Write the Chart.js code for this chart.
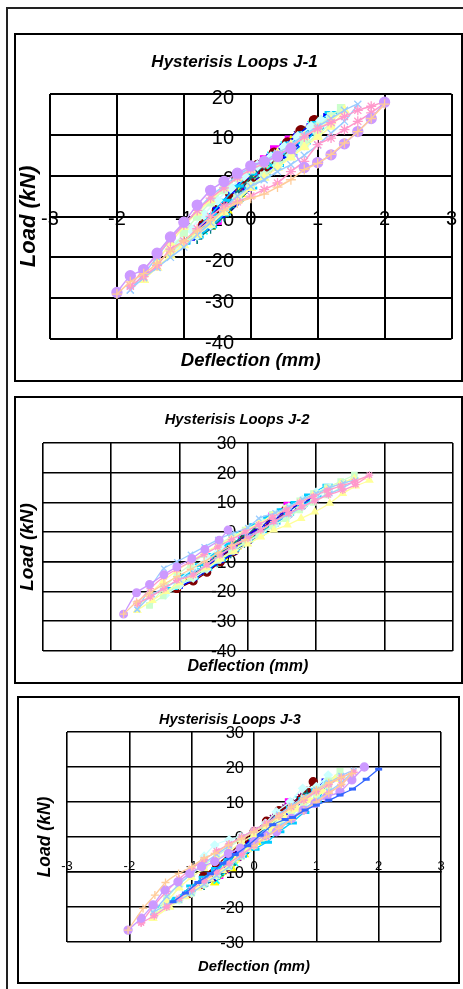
<!DOCTYPE html>
<html><head><meta charset="utf-8">
<script src="https://cdn.jsdelivr.net/npm/chart.js@4.4.1/dist/chart.umd.min.js"></script>
<style>
html,body{margin:0;padding:0;background:#fff;width:463px;height:989px;overflow:hidden;position:relative}
#frame{position:absolute;left:6px;top:7px;width:480px;height:1000px;border:2px solid #222;box-sizing:border-box}
.box{position:absolute;border:2px solid #000;box-sizing:border-box;background:#fff}
.box canvas{position:absolute;left:0;top:0}
</style></head><body>
<div id="frame"></div>
<div class="box" style="left:14px;top:33px;width:449px;height:349px"><canvas id="c1" width="445" height="345"></canvas></div>
<div class="box" style="left:14px;top:396px;width:449px;height:288px"><canvas id="c2" width="445" height="284"></canvas></div>
<div class="box" style="left:17px;top:696px;width:443px;height:288px"><canvas id="c3" width="439" height="284"></canvas></div>
<script>
// ---------- tick / axis labels ----------
const titles = ['Hysterisis Loops J-1', 'Hysterisis Loops J-2', 'Hysterisis Loops J-3'];
const xAxisTitle = 'Deflection (mm)';
const yAxisTitle = 'Load (kN)';
const xRange = [-3, 3];
const yRange1 = [-40, 20];
const yRange2 = [-40, 30];
const yRange3 = [-30, 30];

// ---------- series colours / markers (Excel default order) ----------
const seriesColors = ['#000080','#FF00FF','#FFFF00','#00FFFF','#800080','#800000','#008080','#0000FF','#00CCFF','#CCFFFF','#CCFFCC','#FFFF99','#99CCFF','#FF99CC','#CC99FF','#FFCC99','#3366FF'];
const seriesMarkers = ['rectRot','rect','triangle','crossRot','star','circle','cross','line','line','rectRot','rect','triangle','crossRot','star','circle','cross','line'];

// ---------- J-1 : [deflection mm, load kN] ----------
const j1_s01 = [[-0.4,-9],[-0.2,-5],[0,-1.5],[0.2,2],[0.4,5],[0.3,3],[0.1,0],[-0.1,-3.5],[-0.3,-7.5],[-0.4,-9]];
const j1_s02 = [[-0.5,-11],[-0.3,-6],[-0.1,-1],[0.05,2.3],[0.2,4],[0.35,6.4],[0.57,8.8],[0.4,5],[0.2,2],[0,-1.5],[-0.2,-5.5],[-0.4,-9],[-0.5,-11]];
const j1_s03 = [[-0.6,-12.5],[-0.4,-8],[-0.2,-3.5],[0,0.5],[0.2,3],[0.4,5.5],[0.6,8.5],[0.45,5],[0.25,2],[0.05,-1],[-0.15,-4.5],[-0.35,-8.5],[-0.6,-12.5]];
const j1_s04 = [[-0.7,-13.5],[-0.5,-9],[-0.3,-4.5],[-0.1,-0.5],[0.1,2.5],[0.3,5],[0.5,7.5],[0.7,10],[0.9,12.5],[0.7,8.5],[0.5,5.5],[0.3,2.5],[0.1,-0.5],[-0.1,-3.5],[-0.3,-7],[-0.5,-10.5],[-0.7,-13.5]];
const j1_s05 = [[-0.65,-12],[-0.45,-8],[-0.25,-4],[-0.05,0],[0.15,3],[0.35,5.5],[0.55,8],[0.7,10],[0.55,7],[0.35,4],[0.15,1],[-0.05,-2],[-0.25,-5.5],[-0.45,-9],[-0.65,-12]];
const j1_s06 = [[-0.7,-12],[-0.5,-8.5],[-0.3,-4.5],[-0.1,-0.5],[0.1,2.5],[0.35,5.5],[0.55,8],[0.75,11],[0.95,13.5],[0.8,10],[0.6,6.5],[0.4,3.5],[0.2,0.5],[0,-2],[-0.2,-5.5],[-0.4,-9],[-0.6,-11.5],[-0.7,-12]];
const j1_s07 = [[-0.8,-15.5],[-0.6,-12],[-0.4,-8],[-0.2,-4],[0,-0.5],[0.2,2.5],[0.4,5],[0.6,7.5],[0.8,10.5],[1,13],[0.8,9],[0.6,6],[0.4,3],[0.2,0],[0,-3],[-0.2,-6.5],[-0.4,-10],[-0.6,-13],[-0.8,-15.5]];
const j1_s08 = [[-0.9,-15.5],[-0.7,-12],[-0.5,-8],[-0.3,-4],[-0.1,-0.5],[0.1,2.5],[0.3,5],[0.5,7.5],[0.7,10],[0.9,12.5],[1.15,15],[0.95,11],[0.75,7.5],[0.55,4.5],[0.35,1.5],[0.15,-1],[-0.05,-3.5],[-0.25,-7],[-0.45,-10],[-0.65,-13],[-0.9,-15.5]];
const j1_s09 = [[-1,-16.5],[-0.8,-13],[-0.6,-9.5],[-0.4,-6],[-0.2,-2.5],[0,0.5],[0.2,3],[0.4,5.5],[0.6,8],[0.8,10.5],[1,13],[1.2,15.5],[1,11.5],[0.8,8],[0.6,5],[0.4,2.5],[0.2,0],[0,-3],[-0.2,-6],[-0.4,-9.5],[-0.6,-12.5],[-0.8,-15],[-1,-16.5]];
const j1_s10 = [[-1.1,-17],[-0.9,-13],[-0.7,-9.5],[-0.5,-6],[-0.3,-3],[-0.1,0],[0.1,2.5],[0.3,4.5],[0.5,7],[0.7,9.5],[0.9,12],[1.05,13.5],[1.2,14.5],[1,10.5],[0.8,7.5],[0.6,5],[0.4,2.5],[0.2,0],[0,-2.5],[-0.2,-5.5],[-0.4,-8.5],[-0.6,-12],[-0.8,-14.5],[-1.1,-17]];
const j1_s11 = [[-1.2,-18.5],[-1,-14],[-0.8,-10],[-0.6,-6.5],[-0.4,-3.5],[-0.2,-0.5],[0,1.5],[0.2,3],[0.4,5],[0.6,7],[0.8,9.5],[1,12],[1.2,14.5],[1.35,16.5],[1.2,13],[1,10],[0.8,7.5],[0.6,5],[0.4,2.5],[0.2,0],[0,-2.5],[-0.2,-5.5],[-0.4,-8.5],[-0.6,-11.5],[-0.8,-14],[-1,-16.5],[-1.2,-18.5]];
const j1_s12 = [[-1.6,-25.5],[-1.4,-21],[-1.2,-16.5],[-1,-12.5],[-0.8,-9],[-0.6,-6],[-0.4,-3],[-0.2,-0.5],[0,1.5],[0.2,3.5],[0.4,5.5],[0.6,7.5],[0.8,9.5],[1,11.5],[1.2,13.5],[1.4,16],[1.2,12],[1,9.5],[0.8,7],[0.6,4.5],[0.4,2],[0.2,-0.5],[0,-3],[-0.2,-6],[-0.4,-9],[-0.6,-12],[-0.8,-14.5],[-1,-17],[-1.2,-19.5],[-1.4,-22.5],[-1.6,-25.5]];
const j1_s13 = [[-1.8,-28],[-1.6,-24],[-1.4,-20],[-1.2,-15.5],[-1,-12],[-0.8,-8.5],[-0.6,-5],[-0.4,-2.5],[-0.2,0],[0,2],[0.2,3.5],[0.4,5.5],[0.6,7.5],[0.8,10],[1,12],[1.2,14],[1.4,16],[1.6,17.5],[1.4,13.3],[1.2,10.4],[1,7.5],[0.8,5],[0.6,2.7],[0.4,1],[0.2,-1],[0,-2.6],[-0.2,-5],[-0.4,-8],[-0.6,-11.5],[-0.8,-14.5],[-1,-17.5],[-1.2,-20],[-1.4,-22.5],[-1.6,-25],[-1.8,-28]];
const j1_s14 = [[-1.8,-27],[-1.6,-23],[-1.4,-19.5],[-1.2,-15.5],[-1,-12],[-0.8,-8.5],[-0.6,-5.5],[-0.4,-3],[-0.2,-0.5],[0,1.5],[0.2,3],[0.4,5],[0.6,7],[0.8,9.5],[1,11.5],[1.2,13],[1.4,14.5],[1.6,16],[1.8,17],[2,18],[1.8,15.4],[1.6,13.3],[1.4,11.3],[1.2,9.2],[1,7.6],[0.8,3.5],[0.6,1],[0.4,-1.8],[0.2,-3.4],[0,-5],[-0.2,-6.4],[-0.4,-7.5],[-0.6,-10],[-0.8,-13],[-1,-16],[-1.2,-18],[-1.4,-22],[-1.6,-24.7],[-1.8,-27]];
const j1_s15 = [[-2,-28.6],[-1.8,-24.5],[-1.6,-23],[-1.4,-19],[-1.2,-15],[-1,-11.4],[-0.8,-7.2],[-0.6,-3.6],[-0.4,-1.4],[-0.2,0.6],[0,2.4],[0.2,3.5],[0.4,4.7],[0.6,6.6],[0.8,2],[1,3.2],[1.2,5.1],[1.4,7.8],[1.6,10.8],[1.8,14],[2,18]];
const j1_s16 = [[-2,-29],[-1.8,-26],[-1.6,-24],[-1.4,-21.5],[-1.2,-18.5],[-1,-16],[-0.8,-13.5],[-0.6,-11],[-0.4,-8.5],[-0.2,-6.7],[0,-5.5],[0.2,-4.5],[0.4,-2.8],[0.6,-1],[0.8,1.5],[1,3],[1.2,5.2],[1.4,8],[1.6,10.8],[1.8,14],[2,17.5]];

// ---------- J-2 ----------
const j2_s01 = [[-0.35,-7],[-0.2,-4],[0,-1],[0.2,1.5],[0.35,4],[0.2,0.5],[0,-2.5],[-0.2,-5],[-0.35,-7]];
const j2_s02 = [[-0.5,-10],[-0.3,-6],[-0.1,-2.5],[0.1,1],[0.35,5.5],[0.57,9.1],[0.4,5],[0.2,2],[0,-1.5],[-0.2,-5],[-0.4,-8],[-0.5,-10]];
const j2_s03 = [[-0.6,-11.5],[-0.4,-7.5],[-0.2,-4],[0,-0.5],[0.2,2.5],[0.4,5],[0.6,7.5],[0.45,4.5],[0.25,1.5],[0.05,-1.5],[-0.15,-5],[-0.35,-8.5],[-0.6,-11.5]];
const j2_s04 = [[-0.7,-13],[-0.5,-9],[-0.3,-5.5],[-0.1,-2],[0.1,1.5],[0.3,4.5],[0.5,7],[0.8,10.5],[0.6,7],[0.4,4],[0.2,1],[0,-2],[-0.2,-5],[-0.4,-8.5],[-0.7,-13]];
const j2_s05 = [[-0.65,-12.5],[-0.45,-8.5],[-0.25,-5],[-0.05,-1.5],[0.15,2],[0.35,5],[0.55,7.5],[0.75,9.5],[0.55,6.5],[0.35,3.5],[0.15,0.5],[-0.05,-2.5],[-0.25,-6],[-0.45,-9.5],[-0.65,-12.5]];
const j2_s06 = [[-1.04,-19],[-0.85,-16],[-0.65,-13],[-0.45,-9.5],[-0.25,-5.5],[-0.05,-2],[0.15,1.5],[0.35,4.5],[0.55,7.5],[0.78,10],[0.98,12.5],[0.8,9],[0.6,6],[0.4,3],[0.2,0],[0,-3],[-0.2,-6.5],[-0.4,-10],[-0.6,-13.5],[-0.8,-16.5],[-1.04,-19]];
const j2_s07 = [[-0.85,-15],[-0.65,-11.5],[-0.45,-8],[-0.25,-4.5],[-0.05,-1],[0.15,2],[0.35,5],[0.55,7.5],[0.75,10],[0.95,11.5],[0.75,8],[0.55,5],[0.35,2],[0.15,-1],[-0.05,-4],[-0.25,-7.5],[-0.45,-10.5],[-0.65,-13],[-0.85,-15]];
const j2_s08 = [[-1,-18.5],[-0.8,-15],[-0.6,-11.5],[-0.4,-8],[-0.2,-4.5],[0,-1],[0.2,2],[0.4,5],[0.6,7.5],[0.8,10],[1,12],[0.8,8.5],[0.6,5.5],[0.4,2.5],[0.2,-0.5],[0,-3.5],[-0.2,-7],[-0.4,-10],[-0.6,-13],[-0.8,-16],[-1,-18.5]];
const j2_s09 = [[-1.1,-19],[-0.9,-14.5],[-0.7,-11],[-0.5,-7.5],[-0.3,-4],[-0.1,-0.5],[0.1,2.5],[0.3,5],[0.5,7.5],[0.7,10],[0.9,12.5],[1.17,15.8],[1,12],[0.8,9],[0.6,6],[0.4,3],[0.2,0],[0,-3],[-0.2,-6],[-0.4,-9.5],[-0.6,-12.5],[-0.8,-15.5],[-1.1,-19]];
const j2_s10 = [[-1.21,-21.2],[-1,-16],[-0.8,-12],[-0.6,-8.5],[-0.4,-5],[-0.2,-1.5],[0,1],[0.2,3.5],[0.4,6],[0.6,8.5],[0.8,11],[1,13.5],[1.2,15],[1,11.5],[0.8,8.5],[0.6,5.5],[0.4,2.5],[0.2,-0.5],[0,-3],[-0.2,-6],[-0.4,-9],[-0.6,-12.5],[-0.8,-15.5],[-1,-18],[-1.21,-21.2]];
const j2_s11 = [[-1.44,-24.6],[-1.24,-19],[-1.04,-14.5],[-0.84,-11],[-0.64,-7.5],[-0.44,-4.5],[-0.24,-1.5],[-0.04,0.7],[0.16,2.3],[0.36,6],[0.56,8],[0.76,10.5],[0.96,13],[1.16,15],[1.36,17],[1.56,19.2],[1.36,15],[1.16,12.5],[0.96,10],[0.76,7.5],[0.56,4.5],[0.36,2],[0.16,-1],[-0.04,-3.5],[-0.24,-6.5],[-0.44,-9.5],[-0.64,-12.5],[-0.84,-15.5],[-1.04,-18],[-1.24,-21.5],[-1.44,-24.6]];
const j2_s12 = [[-1.62,-26.3],[-1.44,-21],[-1.24,-16.5],[-1.04,-13],[-0.84,-10],[-0.64,-7],[-0.44,-4.5],[-0.24,-2],[-0.04,0.5],[0.16,3],[0.36,5.5],[0.56,8],[0.76,10],[0.96,12.5],[1.16,14.5],[1.36,16.5],[1.56,18],[1.78,17.5],[1.58,15.5],[1.39,13],[1.2,9.7],[0.98,6.8],[0.78,4.6],[0.58,2.4],[0.38,0.7],[0.19,-1.6],[0,-4],[-0.2,-6.5],[-0.4,-9],[-0.6,-12],[-0.8,-14.5],[-1,-17],[-1.2,-20],[-1.4,-23],[-1.62,-26.3]];
const j2_s13 = [[-1.62,-26],[-1.44,-19],[-1.23,-12.2],[-1.04,-10],[-0.84,-7.5],[-0.64,-5],[-0.44,-2.5],[-0.24,-0.5],[0,1.5],[0.16,4.6],[0.4,6.5],[0.6,8.5],[0.8,11],[1,13],[1.2,15],[1.4,16.5],[1.58,17.5],[1.4,15],[1.2,13],[1,11],[0.8,8.5],[0.6,6],[0.4,3.5],[0.2,1],[0,-1.5],[-0.2,-4.5],[-0.4,-7.5],[-0.6,-11],[-0.8,-13.5],[-1,-16],[-1.2,-18.5],[-1.4,-21],[-1.62,-26]];
const j2_s14 = [[-1.62,-24],[-1.43,-19],[-1.23,-15],[-1.04,-12.5],[-0.84,-10],[-0.64,-7.5],[-0.44,-5],[-0.24,-2.5],[-0.04,0],[0.16,2.5],[0.36,5],[0.56,7.5],[0.76,10],[0.96,12],[1.16,14],[1.36,15.5],[1.56,17],[1.78,19.2],[1.58,16],[1.39,14.1],[1.18,12.5],[0.98,10.5],[0.79,8.5],[0.6,6.3],[0.38,3.5],[0.19,0.7],[0,-2.1],[-0.22,-4.9],[-0.41,-7.7],[-0.6,-11],[-0.8,-14.5],[-1.04,-16.2],[-1.23,-19],[-1.43,-21.8],[-1.62,-24]];
const j2_s15 = [[-1.82,-27.6],[-1.63,-20.4],[-1.44,-17.6],[-1.23,-14.3],[-1.04,-11.7],[-0.82,-8.9],[-0.63,-5.8],[-0.42,-2.7],[-0.29,0.7]];
const j2_s16 = [[-1.82,-27.6],[-1.63,-23.5],[-1.44,-20.5],[-1.23,-17.5],[-1.04,-15],[-0.84,-12.5],[-0.64,-10],[-0.44,-7],[-0.24,-4.5],[-0.04,-2.5]];

// ---------- J-3 ----------
const j3_s01 = [[-0.4,-9],[-0.2,-5],[0,-1.5],[0.2,2],[0.4,5.5],[0.25,2.5],[0.05,-1],[-0.15,-4.5],[-0.4,-9]];
const j3_s02 = [[-0.55,-11],[-0.35,-7],[-0.15,-3],[0.05,0.5],[0.25,4],[0.4,7],[0.55,10.1],[0.4,6],[0.2,2.5],[0,-1],[-0.2,-5],[-0.4,-8.5],[-0.55,-11]];
const j3_s03 = [[-0.63,-13],[-0.45,-9],[-0.25,-5],[-0.05,-1],[0.15,2.5],[0.35,6],[0.6,9],[0.45,5.5],[0.25,2],[0.05,-1.5],[-0.15,-5],[-0.35,-9],[-0.63,-13]];
const j3_s04 = [[-0.6,-12.5],[-0.4,-8],[-0.2,-4],[0,0],[0.2,3.5],[0.45,7.5],[0.7,11],[0.5,7],[0.3,3.5],[0.1,0],[-0.1,-3.5],[-0.3,-7.5],[-0.6,-12.5]];
const j3_s05 = [[-0.7,-12],[-0.5,-8.5],[-0.3,-5],[-0.1,-1.5],[0.1,2],[0.3,5.5],[0.5,8.5],[0.75,11.5],[0.55,8],[0.35,4.5],[0.15,1],[-0.05,-2.5],[-0.25,-6],[-0.45,-9.5],[-0.7,-12]];
const j3_s06 = [[-1.03,-16],[-0.81,-11.3],[-0.6,-8],[-0.4,-5],[-0.2,-1.5],[0,1.5],[0.2,4.5],[0.4,7.5],[0.6,9.5],[0.77,11],[0.95,15.8],[0.85,13],[0.75,10.5],[0.55,7.5],[0.35,4.5],[0.15,1.5],[-0.05,-1.5],[-0.25,-5],[-0.45,-8.5],[-0.65,-11.5],[-0.85,-13.5],[-1.03,-16]];
const j3_s07 = [[-0.8,-14],[-0.6,-10.5],[-0.4,-7],[-0.2,-3.5],[0,0],[0.2,3],[0.4,6],[0.6,8.5],[0.85,12.5],[0.65,8.5],[0.45,5.5],[0.25,2.5],[0.05,-1],[-0.15,-4.5],[-0.35,-8],[-0.55,-11],[-0.8,-14]];
const j3_s08 = [[-1,-15.5],[-0.8,-12],[-0.6,-9],[-0.4,-6],[-0.2,-3],[0,0],[0.2,3],[0.4,6],[0.6,8.5],[0.82,10.1],[1,13.5],[1.14,16.3],[0.95,12.5],[0.75,9.5],[0.55,6.5],[0.35,3.5],[0.15,0.5],[-0.05,-2.5],[-0.25,-6],[-0.45,-9],[-0.65,-12],[-0.85,-14],[-1,-15.5]];
const j3_s09 = [[-1.51,-19.9],[-1.24,-18],[-1.03,-15.6],[-0.8,-12.5],[-0.6,-9.4],[-0.41,-7.3],[-0.2,-5.5],[0,-3.5],[0.2,-1.5],[0.4,1.5],[0.6,4],[0.8,7],[1,10],[1.2,16],[1,13.5],[0.8,11],[0.6,8.5],[0.4,5.5],[0.2,2.5],[0,-0.5],[-0.2,-3.5],[-0.4,-6.5],[-0.6,-9],[-0.8,-11.5],[-1,-14],[-1.25,-17.5],[-1.51,-19.9]];
const j3_s10 = [[-1.42,-19.9],[-1.2,-14],[-1,-9.5],[-0.8,-5.5],[-0.63,-2.3],[-0.4,-0.8],[-0.21,0.1],[0,1.5],[0.18,3.9],[0.36,7.2],[0.58,10.1],[0.78,13.9],[1,14.4],[1.19,17.7],[1,13],[0.8,10],[0.6,7],[0.4,4],[0.2,1],[0,-2],[-0.2,-5],[-0.4,-8],[-0.6,-11],[-0.8,-13.5],[-1,-16],[-1.2,-18],[-1.42,-19.9]];
const j3_s11 = [[-1.6,-22],[-1.4,-17.5],[-1.2,-13.5],[-1,-10.5],[-0.8,-8],[-0.6,-5.5],[-0.4,-3],[-0.2,-0.5],[0,1.5],[0.2,3.5],[0.4,6],[0.6,8.5],[0.8,11],[1,13.5],[1.2,16],[1.38,18.7],[1.2,14.5],[1,11.5],[0.8,9],[0.6,6.5],[0.4,3.5],[0.2,0.5],[0,-2.5],[-0.2,-5.5],[-0.4,-8.5],[-0.6,-11],[-0.8,-13.5],[-1,-16],[-1.2,-18],[-1.4,-20],[-1.6,-22]];
const j3_s12 = [[-1.62,-23.2],[-1.4,-18.5],[-1.2,-14.5],[-1,-11.5],[-0.8,-9],[-0.6,-6.5],[-0.4,-4],[-0.2,-1.5],[0,0.5],[0.2,3],[0.4,5.5],[0.6,8],[0.8,10.5],[1,13],[1.3,16.5],[1.1,13],[0.9,10.5],[0.7,8],[0.5,5.5],[0.3,2.5],[0.1,-0.5],[-0.1,-3.5],[-0.3,-6.5],[-0.5,-9.5],[-0.7,-12],[-0.9,-14.5],[-1.1,-17],[-1.35,-20],[-1.62,-23.2]];
const j3_s13 = [[-1.62,-21.5],[-1.4,-17],[-1.2,-13.5],[-1,-10.5],[-0.8,-7.5],[-0.6,-5],[-0.4,-2.5],[-0.2,0],[0,2],[0.2,4],[0.4,6.5],[0.6,9],[0.8,11.5],[1,13.5],[1.2,15.5],[1.4,17.5],[1.6,19],[1.4,15.5],[1.2,13],[1,10.5],[0.8,8],[0.6,5.5],[0.4,3],[0.2,0],[0,-2.5],[-0.2,-5.5],[-0.4,-8.5],[-0.6,-11],[-0.8,-13.5],[-1,-16],[-1.2,-18],[-1.4,-19.5],[-1.62,-21.5]];
const j3_s14 = [[-1.81,-24.5],[-1.6,-19.5],[-1.4,-15.5],[-1.2,-12],[-1,-9],[-0.8,-6.5],[-0.6,-4],[-0.4,-2],[-0.2,0],[0,2],[0.2,4],[0.4,6],[0.6,8.5],[0.8,10.5],[1,13],[1.2,15],[1.4,17],[1.6,18.5],[1.4,15],[1.2,12.5],[1,10],[0.8,7.5],[0.6,5],[0.4,2.5],[0.2,0],[0,-2.5],[-0.2,-5],[-0.4,-7.5],[-0.6,-10],[-0.8,-12.5],[-1,-15],[-1.2,-17.5],[-1.4,-20],[-1.6,-22.5],[-1.81,-24.5]];
const j3_s15 = [[-2.02,-26.6],[-1.81,-23.2],[-1.62,-19.4],[-1.43,-15.1],[-1.22,-12.8],[-1.03,-10.4],[-0.84,-8.5],[-0.63,-7],[-0.41,-4.7],[-0.22,-3.2],[0,-1.3],[0.18,0.5],[0.36,1.5],[0.6,5.3],[0.79,7.7],[0.98,9.6],[1.17,11.5],[1.38,12.9],[1.57,16.3],[1.77,20]];
const j3_s16 = [[-2.02,-26.6],[-1.78,-20.4],[-1.59,-16.6],[-1.42,-13],[-1.21,-10.4],[-1,-8.5],[-0.8,-6],[-0.63,-4.7],[-0.41,-2.3],[-0.2,-0.5],[0,1.5],[0.2,3.5],[0.4,6],[0.6,8.5],[0.8,11],[1,13.5],[1.2,15.5],[1.4,17],[1.57,18.2],[1.4,15],[1.2,12.5],[1,10],[0.8,7.5],[0.6,5],[0.4,2.5],[0.2,0],[0,-2.5]];
const j3_s17 = [[-1.3,-18.5],[-1.1,-16],[-0.9,-13],[-0.7,-10.5],[-0.5,-7.5],[-0.3,-5],[-0.1,-2.5],[0.1,0.5],[0.3,3.5],[0.5,5],[0.62,5.6],[0.82,7.7],[1,9.1],[1.2,10.5],[1.38,12],[1.58,13.7],[1.8,16.5],[2,19.4]];

const j1Series = [j1_s01,j1_s02,j1_s03,j1_s04,j1_s05,j1_s06,j1_s07,j1_s08,j1_s09,j1_s10,j1_s11,j1_s12,j1_s13,j1_s14,j1_s15,j1_s16];
const j2Series = [j2_s01,j2_s02,j2_s03,j2_s04,j2_s05,j2_s06,j2_s07,j2_s08,j2_s09,j2_s10,j2_s11,j2_s12,j2_s13,j2_s14,j2_s15,j2_s16];
const j3Series = [j3_s01,j3_s02,j3_s03,j3_s04,j3_s05,j3_s06,j3_s07,j3_s08,j3_s09,j3_s10,j3_s11,j3_s12,j3_s13,j3_s14,j3_s15,j3_s16,j3_s17];

const FONT = "'Liberation Sans',Arial,Helvetica,sans-serif";

function build(id, series, title, yRange, o) {
  const datasets = series.map((pts, i) => {
    const m = seriesMarkers[i];
    let r = o.r;
    if (m === 'line') r = (i === 8) ? o.r + 1.5 : o.r - 0.5;
    return {
      data: pts.map(p => ({x: p[0], y: p[1]})),
      showLine: true,
      fill: false,
      borderColor: seriesColors[i],
      backgroundColor: seriesColors[i],
      borderWidth: o.lw,
      pointStyle: m,
      pointRadius: r,
      pointBorderWidth: m === 'line' ? 3 : 1.3,
      pointBorderColor: seriesColors[i],
      pointBackgroundColor: seriesColors[i],
      tension: 0.2,
      order: series.length - i,
      xAxisID: 'x',
      yAxisID: 'y'
    };
  });
  return new Chart(document.getElementById(id), {
    type: 'scatter',
    data: {datasets},
    options: {
      responsive: false,
      animation: false,
      events: [],
      layout: {padding: {left: 0, right: o.padR, top: 0, bottom: 0}},
      plugins: {
        legend: {display: false},
        tooltip: {enabled: false},
        title: {display: true, text: title, color: '#000',
          font: {family: FONT, size: o.titleSize, weight: 'bold', style: 'italic', lineHeight: 1.2},
          padding: {top: o.titlePadT, bottom: o.titlePadB}}
      },
      scales: {
        x: {type: 'linear', min: xRange[0], max: xRange[1], position: {y: -10},
          ticks: {display: o.xTicks, stepSize: 1, autoSkip: false, maxRotation: 0, color: '#000',
            font: {family: FONT, size: o.xTickSize}, padding: o.xTickPad},
          grid: {color: '#000', lineWidth: o.gw, drawTicks: false},
          border: {display: true, color: '#000', width: o.gw}},
        y: {type: 'linear', min: yRange[0], max: yRange[1], position: {x: o.yAxisAt},
          ticks: {stepSize: 10, color: '#000', font: {family: FONT, size: o.yTickSize},
            padding: 0, labelOffset: o.yLabelOff},
          grid: {color: '#000', lineWidth: o.gw, drawTicks: false},
          border: {display: false}},
        xt: {type: 'linear', axis: 'x', position: 'bottom', min: 0, max: 1,
          ticks: {display: false}, grid: {display: false, drawTicks: false}, border: {display: false},
          title: {display: true, text: xAxisTitle, color: '#000',
            font: {family: FONT, size: o.xtSize, weight: 'bold', style: 'italic', lineHeight: 1.2},
            padding: {top: 0, bottom: o.xtPad}},
          afterFit: (s) => { s.height = o.xtH; }},
        yt: {type: 'linear', axis: 'y', position: 'left', min: 0, max: 1,
          ticks: {display: false}, grid: {display: false, drawTicks: false}, border: {display: false},
          title: {display: true, text: yAxisTitle, color: '#000',
            font: {family: FONT, size: o.ytSize, weight: 'bold', style: 'italic', lineHeight: 1.2},
            padding: {top: o.ytPad, bottom: 0}},
          afterFit: (s) => { s.width = o.ytW; }}
      }
    }
  });
}

build('c1', j1Series, titles[0], yRange1, {
  r: 5, lw: 1.5, gw: 2, padR: 8,
  titleSize: 17, titlePadT: 16.8, titlePadB: 21.8,
  xTicks: true, xTickSize: 20, xTickPad: -9,
  yTickSize: 20, yAxisAt: -0.25, yLabelOff: 4,
  xtSize: 18.5, xtPad: 7.9, xtH: 41, ytSize: 22, ytPad: 0, ytW: 34
});
build('c2', j2Series, titles[1], yRange2, {
  r: 3.8, lw: 1.3, gw: 1.6, padR: 3,
  titleSize: 14.8, titlePadT: 13.1, titlePadB: 14.1,
  xTicks: false, xTickSize: 15, xTickPad: 0,
  yTickSize: 17.5, yAxisAt: -0.17, yLabelOff: 1,
  xtSize: 16, xtPad: 5.4, xtH: 31, ytSize: 19, ytPad: 0.6, ytW: 27
});
build('c3', j3Series, titles[2], yRange3, {
  r: 4, lw: 1.3, gw: 1.6, padR: 17,
  titleSize: 14.5, titlePadT: 13.3, titlePadB: 3.3,
  xTicks: true, xTickSize: 13, xTickPad: -13.3,
  yTickSize: 16.5, yAxisAt: -0.16, yLabelOff: 1,
  xtSize: 14.8, xtPad: 6.4, xtH: 40, ytSize: 17.5, ytPad: 15.5, ytW: 48
});
</script>
</body></html>
